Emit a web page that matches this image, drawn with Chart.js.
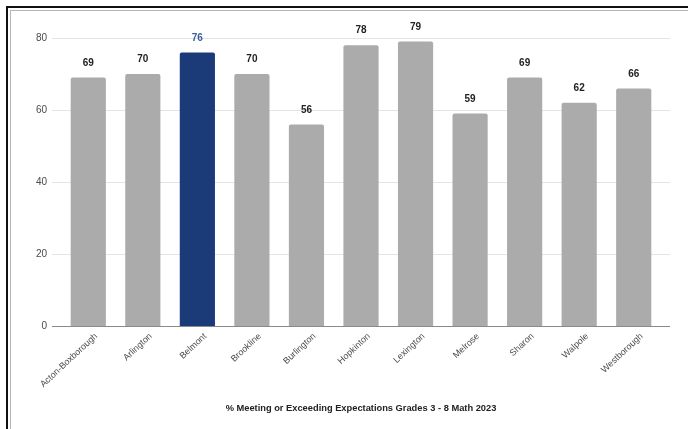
<!DOCTYPE html>
<html>
<head>
<meta charset="utf-8">
<script src="https://cdn.jsdelivr.net/npm/chart.js@4.4.1/dist/chart.umd.min.js"></script>
<style>
  html, body { margin: 0; padding: 0; background: #fff; }
  #wrap { position: relative; width: 688px; height: 429px; overflow: hidden; }
  #chart { position: absolute; left: 0; top: 0; }
  .frame-dark { position: absolute; left: 6px; top: 6px; width: 700px; height: 440px;
    border-top: 2px solid #111; border-left: 2px solid #111; }
  .frame-light { position: absolute; left: 10px; top: 10px; width: 700px; height: 440px;
    border-top: 1.5px solid #b5b5b5; border-left: 1.5px solid #b5b5b5; }
</style>
</head>
<body>
<div id="wrap">
  <canvas id="chart" width="688" height="429"></canvas>
  <div class="frame-dark"></div>
  <div class="frame-light"></div>
</div>
<script>
// Districts and their share of students meeting or exceeding expectations
const districts = ['Acton-Boxborough', 'Arlington', 'Belmont', 'Brookline', 'Burlington',
  'Hopkinton', 'Lexington', 'Melrose', 'Sharon', 'Walpole', 'Westborough'];
const percentMeeting = [69, 70, 76, 70, 56, 78, 79, 59, 69, 62, 66];
const highlighted = 'Belmont';
const yTicks = [0, 20, 40, 60, 80];
const chartTitle = '% Meeting or Exceeding Expectations Grades 3 - 8 Math 2023';

const GRAY = '#ababab';
const NAVY = '#1b3a78';

const barColors = districts.map(d => d === highlighted ? NAVY : GRAY);
const labelColors = districts.map(d => d === highlighted ? '#3b5c9e' : '#222');

// Horizontal gridlines and baseline, extended a little past the plot area on both sides
const gridPlugin = {
  id: 'wideGrid',
  beforeDatasetsDraw(chart) {
    const { ctx, chartArea, scales: { y } } = chart;
    const x0 = chartArea.left - 9, x1 = chartArea.right + 9;
    ctx.save();
    yTicks.forEach(v => {
      const py = Math.round(y.getPixelForValue(v)) + 0.5;
      ctx.strokeStyle = v === 0 ? '#8a8a8a' : '#e4e4e4';
      ctx.lineWidth = 1;
      ctx.beginPath();
      ctx.moveTo(x0, py);
      ctx.lineTo(x1, py);
      ctx.stroke();
    });
    ctx.restore();
  }
};

// Value labels above each bar
const valueLabelPlugin = {
  id: 'valueLabels',
  afterDatasetsDraw(chart) {
    const { ctx } = chart;
    const meta = chart.getDatasetMeta(0);
    ctx.save();
    ctx.font = 'bold 10px "Liberation Sans", Arial, sans-serif';
    ctx.textAlign = 'center';
    ctx.textBaseline = 'middle';
    meta.data.forEach((bar, i) => {
      ctx.fillStyle = labelColors[i];
      ctx.fillText(String(percentMeeting[i]), bar.x, bar.y - 14.5);
    });
    ctx.restore();
  }
};

new Chart(document.getElementById('chart'), {
  type: 'bar',
  data: {
    labels: districts,
    datasets: [{
      data: percentMeeting,
      backgroundColor: barColors,
      borderRadius: { topLeft: 2, topRight: 2 },
      borderSkipped: 'bottom',
      categoryPercentage: 1,
      barPercentage: 0.645
    }]
  },
  options: {
    responsive: false,
    animation: false,
    devicePixelRatio: 1,
    layout: { padding: { left: 0, right: 27, top: 38, bottom: 0 } },
    plugins: {
      legend: { display: false },
      tooltip: { enabled: false },
      title: { display: false }
    },
    scales: {
      y: {
        min: 0,
        max: 80,
        afterBuildTicks(scale) { scale.ticks = yTicks.map(v => ({ value: v })); },
        afterFit(scale) { scale.width = 61; },
        grid: { display: false, drawTicks: false },
        border: { display: false },
        ticks: {
          padding: 14,
          color: '#4a4a4a',
          font: { family: '"Liberation Sans", Arial, sans-serif', size: 10 }
        }
      },
      x: {
        afterFit(scale) { scale.height = 103; },
        grid: { display: false, drawTicks: false },
        border: { display: false },
        ticks: {
          minRotation: 43,
          maxRotation: 43,
          padding: 5,
          labelOffset: 8,
          autoSkip: false,
          color: '#4a4a4a',
          font: { family: '"Liberation Sans", Arial, sans-serif', size: 9 }
        },
        title: {
          display: true,
          text: chartTitle,
          color: '#222',
          padding: { top: 0, bottom: 15 },
          font: { family: '"Liberation Sans", Arial, sans-serif', size: 9.3, weight: 'bold' }
        }
      }
    }
  },
  plugins: [gridPlugin, valueLabelPlugin]
});
</script>
</body>
</html>
